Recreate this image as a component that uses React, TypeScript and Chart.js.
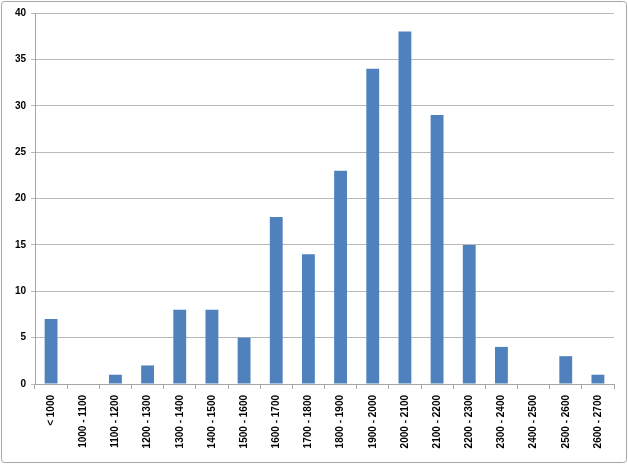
import React, { useEffect, useRef } from "react";
import { Chart, registerables } from "chart.js";

Chart.register(...registerables);

const categories = [
  "< 1000", "1000 - 1100", "1100 - 1200", "1200 - 1300", "1300 - 1400", "1400 - 1500",
  "1500 - 1600", "1600 - 1700", "1700 - 1800", "1800 - 1900", "1900 - 2000", "2000 - 2100",
  "2100 - 2200", "2200 - 2300", "2300 - 2400", "2400 - 2500", "2500 - 2600", "2600 - 2700",
];
const counts = [7, 0, 1, 2, 8, 8, 5, 18, 14, 23, 34, 38, 29, 15, 4, 0, 3, 1];
const yMin = 0;
const yMax = 40;
const yStep = 5;

const borderPlugin = {
  id: "outerBorder",
  beforeDraw(chart: any) {
    const ctx = chart.ctx;
    ctx.save();
    ctx.fillStyle = "#ffffff";
    ctx.fillRect(0, 0, chart.width, chart.height);
    ctx.strokeStyle = "#a6a6a6";
    ctx.lineWidth = 1;
    ctx.beginPath();
    (ctx as any).roundRect(1.5, 1.5, chart.width - 3, chart.height - 3, 3);
    ctx.stroke();
    ctx.restore();
  },
};

export default function App() {
  const ref = useRef<HTMLCanvasElement>(null);
  useEffect(() => {
    document.body.style.margin = "0";
    const chart = new Chart(ref.current!, {
      type: "bar",
      data: {
        labels: categories,
        datasets: [
          {
            data: counts,
            backgroundColor: "#4f81bd",
            barPercentage: 0.4,
            categoryPercentage: 1,
          },
        ],
      },
      options: {
        animation: false,
        responsive: false,
        layout: { padding: { left: 0, right: 14, top: 13, bottom: 0 } },
        plugins: { legend: { display: false }, tooltip: { enabled: false } },
        scales: {
          x: {
            grid: {
              display: true,
              drawOnChartArea: false,
              drawTicks: true,
              tickLength: 5,
              color: "#a6a6a6",
              offset: true,
            },
            border: { display: true, color: "#a6a6a6" },
            ticks: {
              autoSkip: false,
              minRotation: 90,
              maxRotation: 90,
              padding: 6,
              color: "#000000",
              font: { family: "Liberation Sans", size: 10, weight: "bold" },
            },
            afterFit(scale: any) {
              scale.height = 80;
            },
          },
          y: {
            min: yMin,
            max: yMax,
            ticks: {
              stepSize: yStep,
              padding: 5,
              color: "#000000",
              font: { family: "Liberation Sans", size: 10, weight: "bold" },
            },
            grid: { color: "#b9b9b9", tickLength: 4, drawTicks: true },
            border: { display: true, color: "#a6a6a6" },
            afterFit(scale: any) {
              scale.width = 35;
            },
          },
        },
      },
      plugins: [borderPlugin],
    });
    return () => chart.destroy();
  }, []);
  return <canvas ref={ref} width={628} height={464} style={{ display: "block" }} />;
}
